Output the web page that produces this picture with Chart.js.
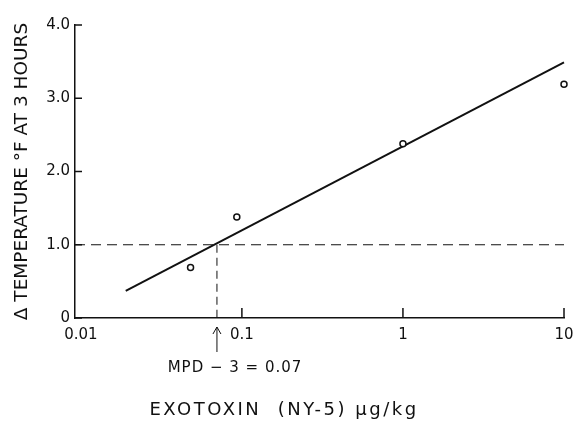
<!DOCTYPE html>
<html lang="en">
<head>
    <meta charset="UTF-8">
    <title>Exotoxin dose response</title>
    <script src="https://cdn.jsdelivr.net/npm/chart.js"></script>
    <style>
        html, body { margin: 0; padding: 0; background: #fff; }
        #box { width: 574px; height: 422px; }
    </style>
</head>
<body>
    <div id="box">
        <canvas id="graficoFebre"></canvas>
    </div>

<script>
    // dados
    const doses = [0.048, 0.093, 1, 10];
    const tempRise = [0.69, 1.38, 2.38, 3.19];
    const fitDose = [0.019, 10];
    const fitTemp = [0.37, 3.49];
    const mpdDose = 0.07;
    const mpdTemp = 1.0;
    const xMin = 0.0092;
    const xMax = 10;
    const xTicks = [0.01, 0.1, 1, 10];
    const xTickLabels = ['0.01', '0.1', '1', '10'];
    const yTicks = [0, 1, 2, 3, 4];
    const yTickLabels = ['0', '1.0', '2.0', '3.0', '4.0'];

    const fonte = "'DejaVu Sans', sans-serif";
    const tinta = '#111';

    function pares(xs, ys) {
        return xs.map((v, i) => ({ x: v, y: ys[i] }));
    }

    // marcas para dentro, seta e textos
    const extras = {
        id: 'extras',
        afterDatasetsDraw(chart) {
            const { ctx, scales: { x, y } } = chart;
            ctx.save();
            ctx.strokeStyle = tinta;
            ctx.fillStyle = tinta;
            ctx.lineWidth = 1.5;

            yTicks.forEach(v => {
                const py = y.getPixelForValue(v);
                ctx.beginPath();
                ctx.moveTo(x.left, py);
                ctx.lineTo(x.left + 7, py);
                ctx.stroke();
            });
            xTicks.slice(1).forEach(v => {
                const px = x.getPixelForValue(v);
                ctx.beginPath();
                ctx.moveTo(px, y.bottom);
                ctx.lineTo(px, y.bottom - 10);
                ctx.stroke();
            });

            // seta do MPD
            const ax = x.getPixelForValue(mpdDose);
            ctx.lineWidth = 1;
            ctx.beginPath();
            ctx.moveTo(ax, y.bottom + 34);
            ctx.lineTo(ax, y.bottom + 9);
            ctx.moveTo(ax - 4, y.bottom + 16);
            ctx.lineTo(ax, y.bottom + 9);
            ctx.lineTo(ax + 4, y.bottom + 16);
            ctx.stroke();

            ctx.textAlign = 'center';
            ctx.textBaseline = 'middle';
            ctx.font = '15px ' + fonte;
            ctx.letterSpacing = '1px';
            ctx.fillText('MPD \u2212 3 = 0.07', 235, y.bottom + 50);

            ctx.font = '18px ' + fonte;
            ctx.letterSpacing = '2.5px';
            ctx.fillText('EXOTOXIN  (NY-5) \u03bcg/kg', 284, 410);
            ctx.restore();
        }
    };

    const dados = {
        datasets: [
            {
                label: 'Observado',
                data: pares(doses, tempRise),
                showLine: false,
                pointRadius: 3,
                pointBorderWidth: 1.5,
                pointBorderColor: tinta,
                pointBackgroundColor: '#fff',
                clip: false
            },
            {
                label: 'Ajuste',
                data: pares(fitDose, fitTemp),
                showLine: true,
                pointRadius: 0,
                borderColor: tinta,
                borderWidth: 2,
                clip: false
            },
            {
                label: 'Limiar',
                data: pares([xMin, xMax], [mpdTemp, mpdTemp]),
                showLine: true,
                pointRadius: 0,
                borderColor: tinta,
                borderWidth: 1,
                borderDash: [10, 6],
                clip: false
            },
            {
                label: 'MPD',
                data: pares([mpdDose, mpdDose], [mpdTemp, 0]),
                showLine: true,
                pointRadius: 0,
                borderColor: tinta,
                borderWidth: 1,
                borderDash: [8, 5],
                clip: false
            }
        ]
    };

    const config = {
        type: 'scatter',
        data: dados,
        options: {
            responsive: true,
            maintainAspectRatio: false,
            animation: false,
            layout: {
                autoPadding: false,
                padding: { top: 25, right: 10, left: 0, bottom: 0 }
            },
            plugins: {
                legend: { display: false },
                tooltip: { enabled: false }
            },
            scales: {
                x: {
                    type: 'logarithmic',
                    min: xMin,
                    max: xMax,
                    afterFit(s) {
                        s.height = 104;
                        s.paddingLeft = 0;
                        s.paddingRight = 0;
                    },
                    afterBuildTicks(s) { s.ticks = xTicks.map(v => ({ value: v })); },
                    grid: { drawOnChartArea: false, drawTicks: false },
                    border: { color: tinta, width: 1.5 },
                    ticks: {
                        padding: 8,
                        color: tinta,
                        font: { family: fonte, size: 15 },
                        maxRotation: 0,
                        autoSkip: false,
                        callback: (v, i) => xTickLabels[i]
                    }
                },
                y: {
                    min: 0,
                    max: 4,
                    afterFit(s) {
                        s.width = 75;
                        s.paddingTop = 0;
                        s.paddingBottom = 0;
                    },
                    afterBuildTicks(s) { s.ticks = yTicks.map(v => ({ value: v })); },
                    grid: { drawOnChartArea: false, drawTicks: false },
                    border: { color: tinta, width: 1.5 },
                    ticks: {
                        padding: 5,
                        color: tinta,
                        font: { family: fonte, size: 15 },
                        callback: (v, i) => yTickLabels[i]
                    },
                    title: {
                        display: true,
                        text: '\u0394 TEMPERATURE \u00b0F AT 3 HOURS',
                        color: tinta,
                        font: { family: fonte, size: 18.5 },
                        padding: { top: 11, bottom: 0 }
                    }
                }
            }
        },
        plugins: [extras]
    };

    let myChart = new Chart(document.getElementById('graficoFebre'), config);
</script>
</body>
</html>
